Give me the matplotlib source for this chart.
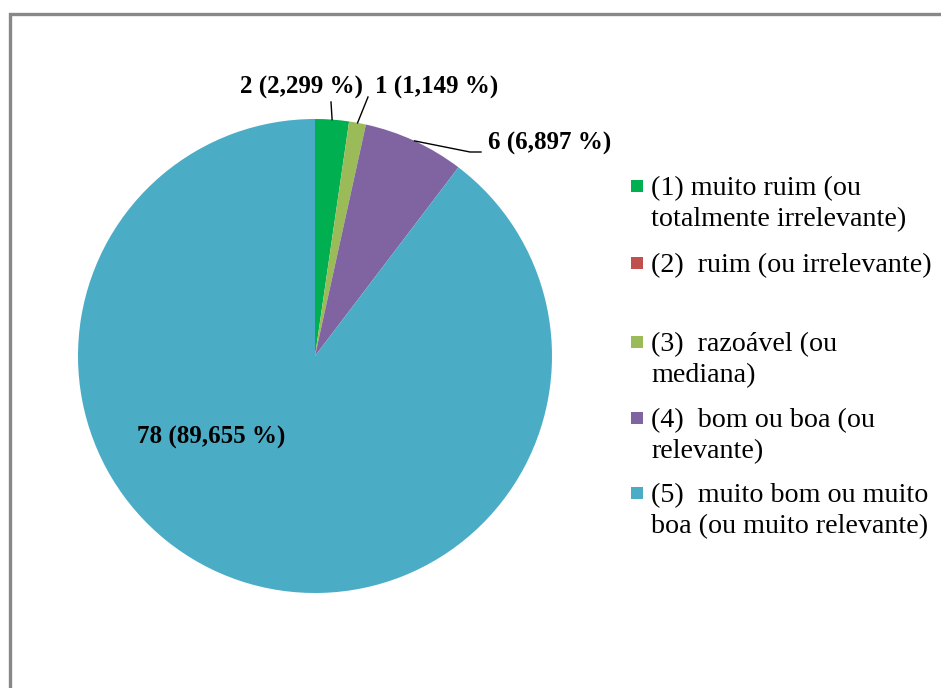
import numpy as np
import matplotlib.pyplot as plt
from matplotlib.patches import Rectangle

plt.rcParams['font.family'] = ['Liberation Serif', 'DejaVu Serif']

categories = [
    "(1) muito ruim (ou\ntotalmente irrelevante)",
    "(2)  ruim (ou irrelevante)",
    "(3)  razoável (ou\nmediana)",
    "(4)  bom ou boa (ou\nrelevante)",
    "(5)  muito bom ou muito\nboa (ou muito relevante)",
]
counts = [2, 0, 1, 6, 78]
pct_labels = ["2 (2,299 %)", None, "1 (1,149 %)", "6 (6,897 %)", "78 (89,655 %)"]
colors = ["#00B050", "#C0504D", "#9BBB59", "#8064A2", "#4BACC6"]

W, H = 941, 688
fig = plt.figure(figsize=(W / 100, H / 100), dpi=100)

# outer grey frame (open on right and bottom)
fig.add_artist(Rectangle((10 / W, -0.1), 1.2, (H - 14) / H + 0.1,
                         transform=fig.transFigure, fill=False,
                         edgecolor="#888888", linewidth=2.4))

cx, cy, r = 315, 356, 237
ax = fig.add_axes([(cx - r) / W, (H - cy - r) / H, 2 * r / W, 2 * r / H])
ax.axis("off")

wedges, _ = ax.pie(counts, colors=colors, startangle=90, counterclock=False,
                   radius=1, wedgeprops=dict(linewidth=0))
ax.set_xlim(-1, 1)
ax.set_ylim(-1, 1)


def to_data(px, py):
    return (px - cx) / r, (cy - py) / r


total = sum(counts)
angles = 90 - 360 * np.cumsum([0] + counts) / total
mid = [(angles[i] + angles[i + 1]) / 2 for i in range(len(counts))]

lbl_font = dict(fontsize=18, fontweight="bold", ha="center", va="center")

# leader lines and labels for the small slices
elbows = {0: [(331, 102)], 2: [(368, 97)], 3: [(470, 152), (481, 152)]}
text_pos = {0: (302, 87), 2: (437, 87), 3: (550, 143), 4: (211, 437)}

for i, lbl in enumerate(pct_labels):
    if lbl is None:
        continue
    a = np.deg2rad(mid[i])
    if i in elbows:
        xs = [np.cos(a)] + [to_data(*p)[0] for p in elbows[i]]
        ys = [np.sin(a)] + [to_data(*p)[1] for p in elbows[i]]
        ax.plot(xs, ys, color="black", linewidth=1, clip_on=False)
    tx, ty = to_data(*text_pos[i])
    ax.text(tx, ty, lbl, clip_on=False, **lbl_font)

# legend
leg_y = [186, 263, 342, 418, 493]
line_gap = 31
for lbl, col, y in zip(categories, colors, leg_y):
    fig.add_artist(Rectangle((631 / W, (H - y - 6) / H), 12 / W, 12 / H,
                             transform=fig.transFigure, facecolor=col,
                             edgecolor="none"))
    for k, line in enumerate(lbl.split("\n")):
        fig.text(651 / W, (H - y - k * line_gap) / H, line, fontsize=20.2,
                 ha="left", va="center_baseline")

fig.savefig("out.png", dpi=100)
